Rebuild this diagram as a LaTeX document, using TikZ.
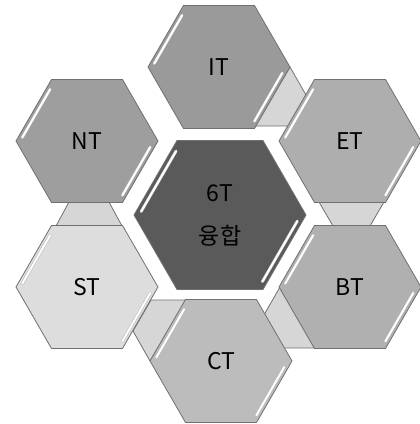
\documentclass[tikz,border=0pt]{standalone}
\usepackage{fontspec}
\setmainfont{Noto Sans CJK KR}
\usetikzlibrary{shapes.geometric,calc,backgrounds}
\definecolor{hxedge}{RGB}{112,112,112}
\definecolor{hxcore}{RGB}{90,90,90}
\definecolor{hxit}{RGB}{154,154,154}
\definecolor{hxnt}{RGB}{158,158,158}
\definecolor{hxet}{RGB}{174,174,174}
\definecolor{hxbt}{RGB}{176,176,176}
\definecolor{hxct}{RGB}{188,188,188}
\definecolor{hxst}{RGB}{221,221,221}
\definecolor{hxlink}{RGB}{214,214,214}
\tikzset{
  hexa/.style={
    regular polygon, regular polygon sides=6, draw=hxedge, line width=0.8pt,
    inner sep=0pt, align=center, text=black,
    font=\fontsize{23}{43}\selectfont
  },
  cell/.style={hexa, minimum size=142pt},
  core/.style={hexa, minimum size=172pt, fill=hxcore},
  link/.style={fill=hxlink, draw=hxedge, line width=0.8pt, line join=round},
  shine/.style={
    draw=black!28, line width=0.5pt, double=white, double distance=2pt,
    line cap=round, shorten <=4pt, shorten >=7pt
  }
}
\begin{document}
\begin{tikzpicture}[x=1pt,y=-1pt]
  \useasboundingbox (0,0) rectangle (420,424);
  % centre and the six fields round it
  \node[core] (hub) at (220,215) {6T\\융합};
  \node[cell, fill=hxit] (IT) at (219,67) {IT};
  \node[cell, fill=hxnt] (NT) at (87,141) {NT};
  \node[cell, fill=hxet] (ET) at (350,141) {ET};
  \node[cell, fill=hxst] (ST) at (87,287) {ST};
  \node[cell, fill=hxbt] (BT) at (350,287) {BT};
  \node[cell, fill=hxct] (CT) at (221,361) {CT};
  % links behind the cells
  \begin{scope}[on background layer]
    \draw[link] ($(IT)+(71,0)$) -- ($(IT)+(87,28)$) -- ($(IT)+(81,59)$)
      -- ($(IT)+(35,59)$) -- cycle;
    \draw[link] ($(NT)+(-18,61)$) -- ($(NT)+(22,61)$) -- ($(ST)+(35,-61)$)
      -- ($(ST)+(-31,-61)$) -- cycle;
    \draw[link] ($(ET)+(-31,61)$) -- ($(ET)+(34,61)$) -- ($(BT)+(20,-61)$)
      -- ($(BT)+(-17,-61)$) -- cycle;
    \draw[link] ($(CT)+(-70,-61)$) -- ($(CT)+(-35,-61)$) -- ($(CT)+(-71,0)$)
      -- ($(CT)+(-88,-30)$) -- cycle;
    \draw[link] ($(BT)+(-70,0)$) -- ($(BT)+(-85.5,27)$) -- ($(BT)+(-70,61)$)
      -- ($(BT)+(-34,61)$) -- cycle;
  \end{scope}
  % bevel lights
  \foreach \n/\r in {IT/71,NT/71,ET/71,ST/71,BT/71,CT/71,hub/86}{
    \draw[shine] ($(\n.center)+(180:0.94*\r)$) -- ($(\n.center)+(240:0.94*\r)$);
    \draw[shine] ($(\n.center)+(60:0.94*\r)$) -- ($(\n.center)+(0:0.94*\r)$);
  }
\end{tikzpicture}
\end{document}
